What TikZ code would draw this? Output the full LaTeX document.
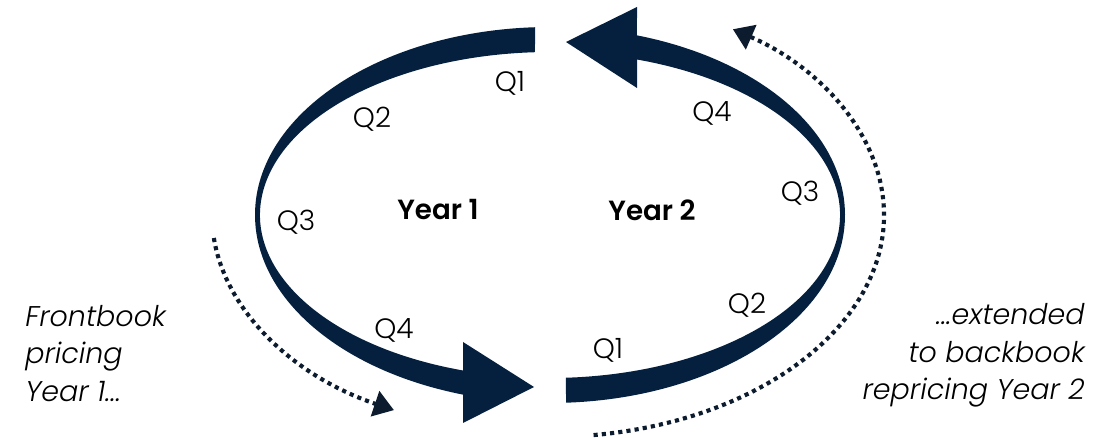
\documentclass[tikz,border=0pt]{standalone}
\usepackage{fontspec}
\setmainfont{Poppins}[UprightFont={* Light},BoldFont={* SemiBold},ItalicFont={* Light Italic},BoldItalicFont={* SemiBold Italic}]
\usetikzlibrary{arrows.meta,calc}
\definecolor{navy}{RGB}{4,32,62}
\definecolor{dotc}{RGB}{12,28,46}
\begin{document}
\begin{tikzpicture}[x=0.75pt,y=0.75pt,
  qlab/.style={font=\fontsize{21}{25}\selectfont,anchor=base,inner sep=0pt},
  yearlab/.style={font=\fontsize{20.8}{25}\selectfont\bfseries,anchor=base,inner sep=0pt},
  sidetxt/.style={font=\fontsize{21.4}{27}\selectfont\itshape,inner sep=0pt},
  dotline/.style={dotc,line width=3.1pt,dash pattern=on 3.1pt off 3.1pt,-{Triangle[length=15pt,width=19.5pt]}}]
\useasboundingbox (0,0) rectangle (1110,438);
\coordinate (C) at (550,223);
% heads
\coordinate (bh1) at (463,15);
\coordinate (bt) at (534,51);
\coordinate (bh2) at (463,96);
\coordinate (th1) at (637,431);
\coordinate (tt) at (566,396);
\coordinate (th2) at (637,350);
% left crescent (Year 1)
\fill[navy] (C) ++(92.91:295 and 188)
  arc[start angle=92.91,end angle=252.85,x radius=295,y radius=188]
  -- (bh1) -- (bt) -- (bh2)
  -- ($(C)+(252.54:290 and 163)$)
  arc[start angle=252.54,end angle=92.97,x radius=290,y radius=163] -- cycle;
% right crescent (Year 2)
\fill[navy] (C) ++(273.11:295 and 188)
  arc[start angle=273.11,end angle=432.85,x radius=295,y radius=188]
  -- (th1) -- (tt) -- (th2)
  -- ($(C)+(432.54:290 and 163)$)
  arc[start angle=432.54,end angle=273.16,x radius=290,y radius=163] -- cycle;
% dotted arrows
\draw[dotline] (C) ++(186:338 and 220) arc[start angle=186,end angle=242.5,x radius=338,y radius=220];
\draw[dotline] (C) ++(277.5:334 and 222) arc[start angle=277.5,end angle=416.8,x radius=334,y radius=222];
% labels
\node[qlab] (q1a) at (510,346) {Q1};
\node[qlab] (q2a) at (372,310) {Q2};
\node[qlab] (q3a) at (296,207) {Q3};
\node[qlab] (q4a) at (394,99) {Q4};
\node[qlab] (q1b) at (608,79) {Q1};
\node[qlab] (q2b) at (747,124) {Q2};
\node[qlab] (q3b) at (800,236) {Q3};
\node[qlab] (q4b) at (712,316) {Q4};
\node[yearlab] (y1) at (438,218) {Year 1};
\node[yearlab] (y2) at (652,217) {Year 2};
\node[sidetxt,anchor=base west] (l1) at (25,111) {Frontbook};
\node[sidetxt,anchor=base west] (l2) at (25,74) {pricing};
\node[sidetxt,anchor=base west] (l3) at (25,36) {Year 1...};
\node[sidetxt,anchor=base east] (r1) at (1085,113) {...extended};
\node[sidetxt,anchor=base east] (r2) at (1085,75) {to backbook};
\node[sidetxt,anchor=base east] (r3) at (1085,38) {repricing Year 2};
\end{tikzpicture}
\end{document}
